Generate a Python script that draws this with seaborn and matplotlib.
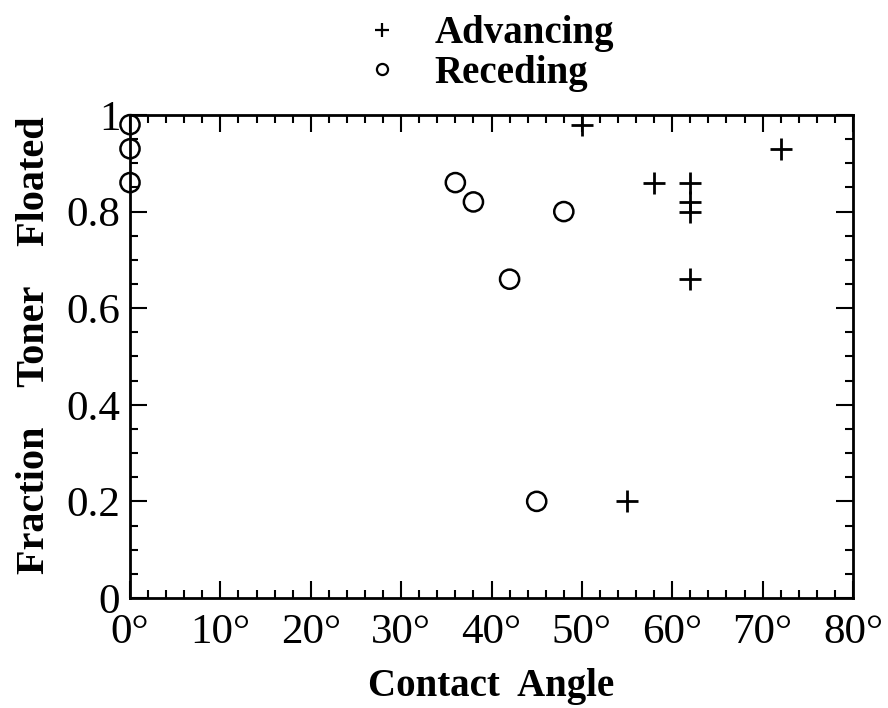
import matplotlib
matplotlib.use("Agg")
import matplotlib.pyplot as plt
import seaborn as sns
import pandas as pd
from matplotlib.lines import Line2D
from matplotlib.ticker import MultipleLocator, FixedLocator, FixedFormatter

sns.set_theme(style="white")
plt.rcParams['font.family'] = ['Liberation Serif', 'DejaVu Serif']
plt.rcParams['text.color'] = 'black'
plt.rcParams['axes.labelcolor'] = 'black'
plt.rcParams['xtick.color'] = 'black'
plt.rcParams['ytick.color'] = 'black'

# Data
adv_angle = [50, 55, 58, 62, 62, 62, 62, 72]
adv_frac = [0.98, 0.20, 0.86, 0.86, 0.82, 0.80, 0.66, 0.93]
rec_angle = [0, 0, 0, 36, 38, 42, 45, 48]
rec_frac = [0.98, 0.93, 0.86, 0.86, 0.82, 0.66, 0.20, 0.80]
x_ticks = [0, 10, 20, 30, 40, 50, 60, 70, 80]
x_labels = ["0°", "10°", "20°", "30°", "40°", "50°", "60°", "70°", "80°"]
y_ticks = [0, 0.2, 0.4, 0.6, 0.8, 1.0]
y_labels = ["0", "0.2", "0.4", "0.6", "0.8", "1"]

adv = pd.DataFrame({"angle": adv_angle, "frac": adv_frac})
rec = pd.DataFrame({"angle": rec_angle, "frac": rec_frac})

fig = plt.figure(figsize=(8.88, 7.08), dpi=100)
ax = fig.add_axes([0.1464, 0.1554, 0.8142, 0.6822])

sns.scatterplot(data=adv, x="angle", y="frac", marker="+", color="black",
                s=260, linewidth=2, ax=ax, clip_on=False, zorder=5)
sns.scatterplot(data=rec, x="angle", y="frac", marker="o", facecolor="none",
                edgecolor="black", s=190, linewidth=1.8, ax=ax, clip_on=False, zorder=5)

ax.set_xlim(0, 80)
ax.set_ylim(0, 1)
ax.xaxis.set_major_locator(FixedLocator(x_ticks))
ax.xaxis.set_major_formatter(FixedFormatter(x_labels))
ax.yaxis.set_major_locator(FixedLocator(y_ticks))
ax.yaxis.set_major_formatter(FixedFormatter(y_labels))
ax.xaxis.set_minor_locator(MultipleLocator(2))
ax.yaxis.set_minor_locator(MultipleLocator(0.05))

ax.tick_params(which="both", direction="in", top=True, right=True, bottom=True, left=True,
               color="black", width=1.5)
ax.tick_params(which="major", length=12, labelsize=31)
ax.tick_params(axis="x", which="major", pad=11)
ax.tick_params(axis="y", which="major", pad=7)
ax.tick_params(which="minor", length=6)
for s in ax.spines.values():
    s.set_color("black")
    s.set_linewidth(2)

ax.set_xlabel("Contact  Angle", fontsize=28, fontweight="bold", labelpad=12)
ax.set_ylabel("Fraction    Toner    Floated", fontsize=29, fontweight="bold")
ax.yaxis.set_label_coords(-0.107, 0.524)

handles = [Line2D([], [], marker="+", color="black", linestyle="none", markersize=10, markeredgewidth=1.6),
           Line2D([], [], marker="o", markerfacecolor="none", markeredgecolor="black",
                  linestyle="none", markersize=8, markeredgewidth=1.6)]
leg = fig.legend(handles, ["Advancing", "Receding"], loc="upper left",
                 bbox_to_anchor=(0.3686, 1.028), frameon=False,
                 prop={"size": 28, "weight": "bold"}, handletextpad=0.86,
                 labelspacing=0.07, handlelength=1.0)

fig.savefig("out.png", dpi=100, facecolor="white")
